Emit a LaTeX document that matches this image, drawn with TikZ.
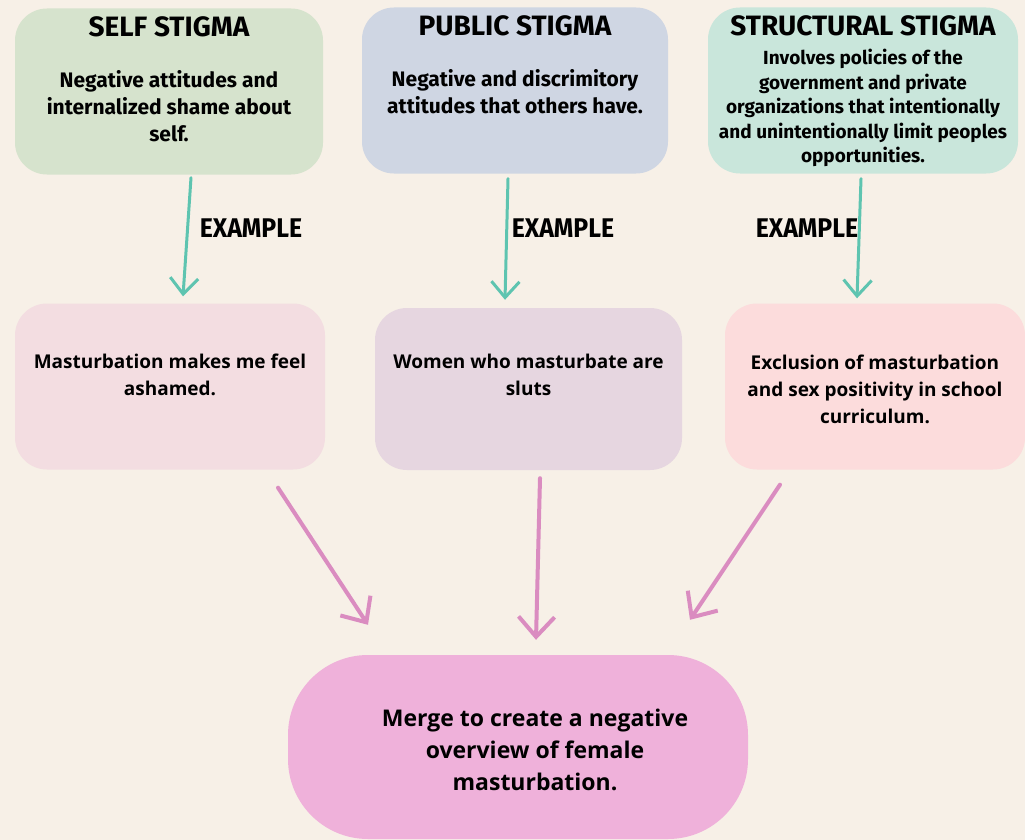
\documentclass[tikz,border=0pt]{standalone}
\usepackage{fontspec}
\setmainfont{Open Sans}
\newfontfamily\headfont{Fira Sans}
\newfontfamily\labelfont{Fira Sans}[FakeStretch=0.92]
\usetikzlibrary{positioning,arrows.meta}
\definecolor{bgcol}{HTML}{F7F0E7}
\definecolor{selfcol}{HTML}{D6E3CD}
\definecolor{publiccol}{HTML}{CFD6E3}
\definecolor{structcol}{HTML}{C9E6DB}
\definecolor{selfexcol}{HTML}{F3DDE1}
\definecolor{publicexcol}{HTML}{E6D6E0}
\definecolor{structexcol}{HTML}{FCDCDC}
\definecolor{mergecol}{HTML}{EFB1DA}
\definecolor{tealcol}{HTML}{5EC4B0}
\definecolor{pinkcol}{HTML}{DA8CC0}

\begin{document}
\begin{tikzpicture}[
		x=1pt, y=1pt,
		box/.style={
			rounded corners=32pt,
			minimum width=308pt,
			minimum height=166pt,
			inner sep=0pt
		},
		head/.style={
			font=\headfont\bfseries\fontsize{28}{28}\selectfont,
			inner sep=0pt
		},
		topnote/.style={
			font=\headfont\bfseries\fontsize{21}{27}\selectfont,
			align=center,
			inner sep=0pt
		},
		exnote/.style={
			font=\bfseries\fontsize{19}{27}\selectfont,
			align=center,
			inner sep=0pt
		},
		exlabel/.style={
			font=\labelfont\bfseries\fontsize{27}{27}\selectfont,
			inner sep=0pt
		},
		teal arrow/.style={
			draw=tealcol,
			line width=3pt,
			line cap=round,
			-{Straight Barb[length=16pt,width=28pt,line width=3pt]}
		},
		pink arrow/.style={
			draw=pinkcol,
			line width=4pt,
			line cap=round,
			-{Straight Barb[length=20pt,width=36pt,line width=4pt]}
		}
		]
		
		\fill[bgcol] (0,0) rectangle (1025,-840);
		\useasboundingbox (0,0) rectangle (1025,-840);
		
		% kinds of stigma
		\node[box, fill=selfcol] (self) at (169,-91.5) {};
		\node[box, fill=publiccol, minimum width=306pt] (public) at (515,-90.5) {};
		\node[box, fill=structcol, minimum width=310pt] (struct) at (863,-90.5) {};
		
		\node[head, below=8pt of self.north] (selfhead) {SELF STIGMA};
		\node[head, below=8pt of public.north] (publichead) {PUBLIC STIGMA};
		\node[head, below=8pt of struct.north] (structhead) {STRUCTURAL STIGMA};
		
		\node[topnote, below=33pt of selfhead] (selfnote) {Negative attitudes and\\ internalized shame about\\ self.};
		\node[topnote, below=33pt of publichead] (publicnote) {Negative and discrimitory\\ attitudes that others have.};
		\node[topnote, font=\headfont\bfseries\fontsize{19}{24.5}\selectfont, below=13pt of structhead] (structnote) {Involves policies of the\\ government and private\\ organizations that intentionally\\ and unintentionally limit peoples\\ opportunities.};
		
		% examples
		\node[box, fill=selfexcol, minimum width=310pt] (selfex) at (170,-386.5) {};
		\node[box, fill=publicexcol, minimum width=307pt, minimum height=162pt] (publicex) at (528.5,-389) {};
		\node[box, fill=structexcol, minimum width=300pt] (structex) at (875,-386.5) {};
		
		\node[exnote, below=50pt of selfex.north] (selfexnote) {Masturbation makes me feel\\ ashamed.};
		\node[exnote, below=46pt of publicex.north] (publicexnote) {Women who masturbate are\\ sluts};
		\node[exnote, below=51pt of structex.north] (structexnote) {Exclusion of masturbation\\ and sex positivity in school\\ curriculum.};
		
		\node[exlabel] (selflabel) at (251,-228) {EXAMPLE};
		\node[exlabel] (publiclabel) at (563,-228) {EXAMPLE};
		\node[exlabel] (structlabel) at (807,-228) {EXAMPLE};
		
		% result
		\node[box, fill=mergecol, rounded corners=80pt, minimum width=460pt, minimum height=184pt] (merge) at (518,-747) {};
		\node[exnote, font=\bfseries\fontsize{23}{32}\selectfont] (mergenote) at (535,-750) {Merge to create a negative\\ overview of female\\ masturbation.};
		
		\draw[teal arrow] ([shift={(22pt,-3pt)}]self.south) -- ([shift={(13pt,7pt)}]selfex.north);
		\draw[teal arrow] ([shift={(-7pt,-5pt)}]public.south) -- ([shift={(-23.5pt,8pt)}]publicex.north);
		\draw[teal arrow] ([shift={(-2pt,-5pt)}]struct.south) -- ([shift={(-18pt,5pt)}]structex.north);
		
		\draw[pink arrow] ([shift={(108pt,-18pt)}]selfex.south) -- ([shift={(-150pt,30pt)}]merge.north);
		\draw[pink arrow] ([shift={(11.5pt,-8pt)}]publicex.south) -- ([shift={(18pt,15pt)}]merge.north);
		\draw[pink arrow] ([shift={(-95pt,-15pt)}]structex.south) -- ([shift={(172pt,35pt)}]merge.north);
		
	\end{tikzpicture}
\end{document}
